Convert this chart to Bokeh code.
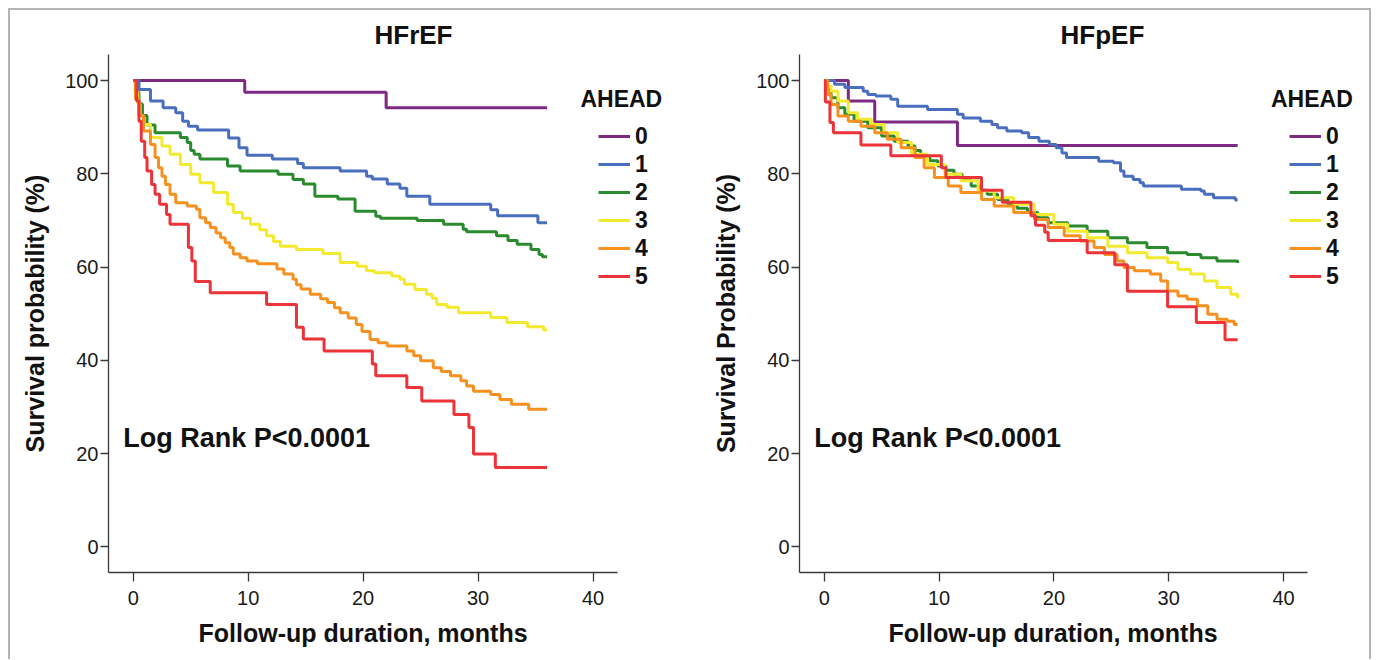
from bokeh.plotting import figure
from bokeh.models import ColumnDataSource, Legend, LegendItem, Label, Range1d, FixedTicker, Title
from bokeh.layouts import row
from bokeh.embed import file_html
from bokeh.resources import INLINE

FONT = "Liberation Sans"
GROUPS = ["0", "1", "2", "3", "4", "5"]
COLORS = ["#7E2A82", "#4A6EBE", "#2A8A2E", "#F3E92E", "#F6901E", "#EC3338"]
X_TICKS = [0, 10, 20, 30, 40]
Y_TICKS = [0, 20, 40, 60, 80, 100]

# ---- HFrEF (months, survival %) ----
hfref_t0 = [0, 9.7, 22.0, 36]
hfref_s0 = [100, 97.5, 94.2, 94.2]
hfref_t1 = [0, 0.5, 1.5, 2.6, 3.7, 4.3, 4.8, 5.6, 8.3, 9.2, 9.9, 12.1, 14.3, 14.8, 18.0, 20.3,
            20.8, 22.1, 23.2, 23.8, 25.8, 31.1, 31.7, 35.2, 36]
hfref_s1 = [100, 98.1, 95.6, 94.2, 93.1, 91.3, 90.2, 89.4, 87.7, 85.6, 84.0, 83.2, 82.2, 81.3, 80.6, 79.5,
            78.9, 77.8, 76.9, 75.2, 73.5, 72.3, 71.0, 69.5, 69.5]
hfref_t2 = [0, 0.2, 0.5, 0.8, 1.2, 1.9, 4.1, 4.7, 5.0, 5.3, 5.8, 8.2, 9.3, 12.6, 13.9, 14.8, 15.8,
            17.8, 19.3, 21.1, 21.5, 24.7, 27.0, 28.7, 29.0, 31.6, 32.6, 33.4, 34.6, 35.3, 35.6, 36]
hfref_s2 = [100, 97.5, 95.0, 92.5, 90.5, 88.8, 87.8, 86.7, 85.0, 84.2, 83.2, 81.7, 80.6, 79.9, 78.8, 77.8, 75.2,
            74.6, 72.0, 70.9, 70.5, 70.0, 69.2, 68.1, 67.6, 66.7, 65.7, 64.9, 63.8, 62.7, 62.2, 62.2]
hfref_t3 = [0, 0.15, 0.4, 0.6, 0.9, 1.5, 2.5, 3.2, 4.1, 5.0, 5.8, 7.0, 8.2, 8.7, 9.5, 10.2, 11.0, 11.6,
            12.2, 12.8, 14.2, 16.5, 18.0, 19.5, 20.3, 21.0, 22.5, 23.2, 23.6, 24.5, 25.5, 26.0, 26.4,
            27.3, 28.3, 31.1, 32.5, 34.3, 35.7, 36]
hfref_s3 = [100, 97.5, 95.0, 92.5, 90.6, 87.8, 86.0, 84.2, 82.0, 79.9, 78.1, 76.0, 73.5, 71.7, 70.5, 69.2, 68.0, 66.7,
            65.5, 64.5, 63.8, 62.9, 61.0, 60.2, 59.2, 58.8, 58.1, 57.4, 56.3, 55.2, 54.2, 53.3, 52.0,
            51.4, 50.2, 49.2, 48.1, 47.2, 46.5, 46.5]
hfref_t4 = [0, 0.2, 0.5, 0.9, 1.5, 1.9, 2.2, 2.5, 2.8, 3.2, 3.7, 4.7, 5.5, 5.8, 6.3, 6.7, 7.2, 7.6, 8.0,
            8.4, 8.7, 9.3, 9.9, 10.8, 12.5, 13.1, 13.9, 14.2, 14.6, 15.4, 16.3, 16.9, 17.5, 18.0, 18.7,
            19.4, 19.9, 20.6, 21.3, 22.1, 23.8, 24.4, 25.0, 26.1, 26.8, 27.6, 28.5, 29.0, 29.6, 31.1,
            31.9, 32.9, 34.4, 36]
hfref_s4 = [100, 96.0, 92.5, 89.2, 86.3, 83.5, 81.3, 79.5, 77.7, 75.6, 73.8, 73.1, 72.4, 70.6, 69.5, 68.5, 67.3, 66.3, 65.2,
            64.2, 62.8, 62.0, 61.3, 60.7, 59.6, 58.5, 57.4, 56.2, 55.3, 54.2, 53.2, 52.4, 51.3, 50.2, 49.1,
            47.7, 46.2, 44.5, 43.8, 43.1, 42.0, 41.0, 39.9, 38.4, 37.6, 36.7, 35.6, 34.5, 33.4, 32.7,
            31.6, 30.6, 29.5, 29.5]
hfref_t5 = [0, 0.3, 0.5, 0.7, 1.0, 1.2, 1.6, 1.9, 2.3, 2.9, 3.2, 4.8, 5.1, 5.4, 6.7, 11.6, 14.2, 14.8,
            16.6, 20.8, 21.1, 23.8, 25.1, 27.9, 29.2, 29.6, 31.5, 36]
hfref_s5 = [100, 95.6, 91.3, 87.0, 83.5, 80.6, 77.7, 75.6, 73.5, 71.3, 69.2, 64.2, 61.3, 56.9, 54.5, 52.0, 47.1, 44.6,
            42.0, 39.2, 36.7, 34.2, 31.3, 28.4, 25.6, 19.9, 17.0, 17.0]

# ---- HFpEF ----
hfpef_t0 = [0, 2.1, 4.4, 11.6, 36]
hfpef_s0 = [100, 95.6, 91.1, 86.1, 86.1]
hfpef_t1 = [0, 0.9, 1.8, 3.4, 3.8, 4.5, 5.8, 6.4, 9.0, 11.6, 12.1, 13.6, 14.6, 15.1, 15.9, 17.2, 17.8,
            18.7, 19.6, 20.2, 20.7, 21.1, 23.9, 25.2, 25.8, 26.1, 26.9, 27.5, 27.8, 31.1, 32.8, 33.1,
            33.9, 35.8, 36]
hfpef_s1 = [100, 99.2, 98.5, 97.7, 97.0, 96.7, 96.0, 94.5, 93.8, 92.8, 92.0, 91.3, 90.6, 89.9, 89.2, 88.8, 87.8,
            87.0, 86.3, 85.6, 84.5, 83.5, 82.7, 82.4, 80.6, 79.5, 78.8, 78.1, 77.4, 76.7, 76.3, 75.6,
            74.9, 74.4, 74.4]
hfpef_t2 = [0, 0.3, 0.6, 1.2, 1.8, 2.6, 3.8, 5.0, 6.1, 7.3, 7.9, 8.4, 9.2, 9.9, 10.6, 11.3, 12.0, 12.8,
            13.5, 14.2, 15.1, 16.0, 16.8, 17.7, 18.6, 19.5, 21.2, 22.9, 24.7, 26.4, 28.1, 29.9, 31.6,
            32.8, 34.2, 36]
hfpef_s2 = [100, 98.0, 96.3, 94.2, 92.8, 91.3, 89.9, 88.1, 87.0, 86.0, 85.0, 83.8, 82.8, 81.7, 80.8, 79.9, 78.6, 77.4,
            76.5, 75.6, 74.5, 73.5, 72.6, 71.7, 70.6, 69.5, 68.8, 67.7, 66.3, 65.2, 64.2, 63.1, 62.7,
            62.0, 61.3, 60.9]
hfpef_t3 = [0, 0.3, 0.6, 1.2, 2.1, 2.9, 4.1, 5.2, 6.4, 7.6, 9.0, 10.5, 11.9, 13.4, 14.8, 16.5, 18.3,
            20.0, 21.2, 22.9, 24.7, 26.4, 28.1, 29.9, 30.8, 31.9, 33.1, 34.2, 35.4, 36]
hfpef_s3 = [100, 98.8, 97.7, 95.6, 93.1, 91.7, 90.6, 88.8, 86.7, 84.2, 82.0, 79.9, 78.5, 76.3, 74.9, 73.5, 71.3,
            69.2, 67.7, 66.3, 64.5, 63.1, 62.0, 61.0, 59.5, 58.5, 57.0, 55.6, 54.2, 53.3]
hfpef_t4 = [0, 0.3, 0.6, 1.2, 2.1, 3.2, 4.4, 5.5, 6.7, 7.9, 8.7, 9.6, 10.8, 11.9, 13.7, 14.8, 16.5,
            18.3, 19.5, 20.9, 22.3, 23.5, 24.4, 25.5, 26.1, 27.0, 28.4, 29.3, 29.9, 30.8, 31.6, 32.5,
            33.4, 34.2, 35.1, 35.7, 36]
hfpef_s4 = [100, 97.0, 94.9, 92.4, 91.3, 90.2, 88.8, 87.4, 85.6, 83.5, 81.3, 79.2, 77.4, 76.0, 74.5, 73.1, 71.7,
            70.2, 68.5, 66.7, 65.6, 64.2, 62.7, 61.3, 59.9, 59.2, 58.5, 57.0, 54.9, 53.8, 53.1, 51.7,
            49.9, 48.8, 48.4, 47.7, 47.7]
hfpef_t5 = [0, 0.1, 0.5, 0.8, 3.2, 5.8, 10.2, 10.6, 13.7, 15.5, 18.0, 18.4, 19.2, 19.5, 22.9, 25.3,
            26.4, 29.9, 32.4, 34.9, 36]
hfpef_s5 = [100, 95.4, 91.0, 88.8, 86.2, 83.9, 81.3, 79.2, 76.5, 73.9, 71.0, 69.0, 67.5, 65.7, 63.1, 60.5,
            54.8, 51.5, 48.1, 44.4, 44.4]

HFREF = [(hfref_t0, hfref_s0), (hfref_t1, hfref_s1), (hfref_t2, hfref_s2),
         (hfref_t3, hfref_s3), (hfref_t4, hfref_s4), (hfref_t5, hfref_s5)]
HFPEF = [(hfpef_t0, hfpef_s0), (hfpef_t1, hfpef_s1), (hfpef_t2, hfpef_s2),
         (hfpef_t3, hfpef_s3), (hfpef_t4, hfpef_s4), (hfpef_t5, hfpef_s5)]

X_START = -2.15
X_AXIS_END = 42.1
X_LABEL = "Follow-up duration, months"


def make_panel(title, ylabel, curves, frame_left, frame_width, fig_width, title_offset,
               xlabel_offset, x_end):
    p = figure(width=fig_width, height=650, frame_width=frame_width, frame_height=518,
               output_backend="svg", toolbar_location=None, tools="",
               x_range=Range1d(X_START, x_end), y_range=Range1d(-5.5, 105.6),
               min_border_left=frame_left, min_border_right=fig_width - frame_left - frame_width,
               min_border_top=44, min_border_bottom=30)
    p.title.text = title
    p.title.align = "left"
    p.title.offset = title_offset
    p.title.text_font = FONT
    p.title.text_font_size = "26px"
    p.title.text_font_style = "bold"
    p.title.text_color = "#111111"
    p.title.vertical_align = "bottom"
    p.title.standoff = 9
    p.outline_line_color = None
    p.grid.visible = False
    p.background_fill_color = "white"
    p.border_fill_color = "white"

    for ax in (p.xaxis[0], p.yaxis[0]):
        ax.axis_line_color = "#3a3a3a"
        ax.axis_line_width = 1.3
        ax.major_tick_line_color = "#3a3a3a"
        ax.major_tick_line_width = 1.3
        ax.major_tick_in = 0
        ax.minor_tick_line_color = None
        ax.major_label_text_font = FONT
        ax.major_label_text_font_size = "20px"
        ax.major_label_text_color = "#1a1a1a"
        ax.axis_label_text_font = FONT
        ax.axis_label_text_font_size = "25px"
        ax.axis_label_text_font_style = "bold"
        ax.axis_label_text_color = "#111111"
    p.xaxis.bounds = (X_START, X_AXIS_END)
    p.xaxis.ticker = FixedTicker(ticks=X_TICKS)
    p.yaxis.ticker = FixedTicker(ticks=Y_TICKS)
    p.xaxis.major_tick_out = 9
    p.yaxis.major_tick_out = 8
    p.xaxis.major_label_standoff = 9
    p.yaxis.major_label_standoff = 2
    p.yaxis.axis_label = ylabel
    p.yaxis.axis_label_standoff = 13

    xlab = Title(text=X_LABEL, align="left", offset=xlabel_offset, text_font=FONT,
                 text_font_size="25px", text_font_style="bold", text_color="#111111",
                 vertical_align="top", standoff=22)
    p.add_layout(xlab, "below")

    items = []
    for g, col, (t, s) in zip(GROUPS, COLORS, curves):
        src = ColumnDataSource(dict(t=t, s=s))
        r = p.step(x="t", y="s", source=src, mode="after", line_width=3, line_color=col)
        items.append(LegendItem(label=g, renderers=[r]))

    leg = Legend(items=items, location=(490, 282), padding=0, margin=0, spacing=0,
                 glyph_width=32, glyph_height=28, label_height=28, label_standoff=5,
                 label_text_font=FONT, label_text_font_size="23px", label_text_font_style="bold",
                 label_text_color="#111111", border_line_alpha=0, background_fill_alpha=0)
    p.add_layout(leg, "center")

    p.add_layout(Label(x=38.9, y=96.0, text="AHEAD", text_font=FONT, text_font_size="23px",
                       text_font_style="bold", text_color="#111111", text_baseline="middle",
                       text_align="left"))
    p.add_layout(Label(x=-0.87, y=23.3, text="Log Rank P<0.0001", text_font=FONT,
                       text_font_size="27px", text_font_style="bold", text_color="#111111",
                       text_baseline="middle", text_align="left"))
    return p


p1 = make_panel("HFrEF", "Survival probability (%)", HFREF, 98, 574, 680, 266, 90, 47.78)
p2 = make_panel("HFpEF", "Survival Probability (%)", HFPEF, 109, 563, 679, 261, 89, 46.87)

layout = row(p1, p2, styles={"margin-top": "8px", "margin-left": "8px",
                             "border-top": "2px solid #b4b4b4", "border-left": "2px solid #b4b4b4",
                             "border-right": "2px solid #b4b4b4"})

open("out.html", "w").write(file_html(layout, INLINE))
